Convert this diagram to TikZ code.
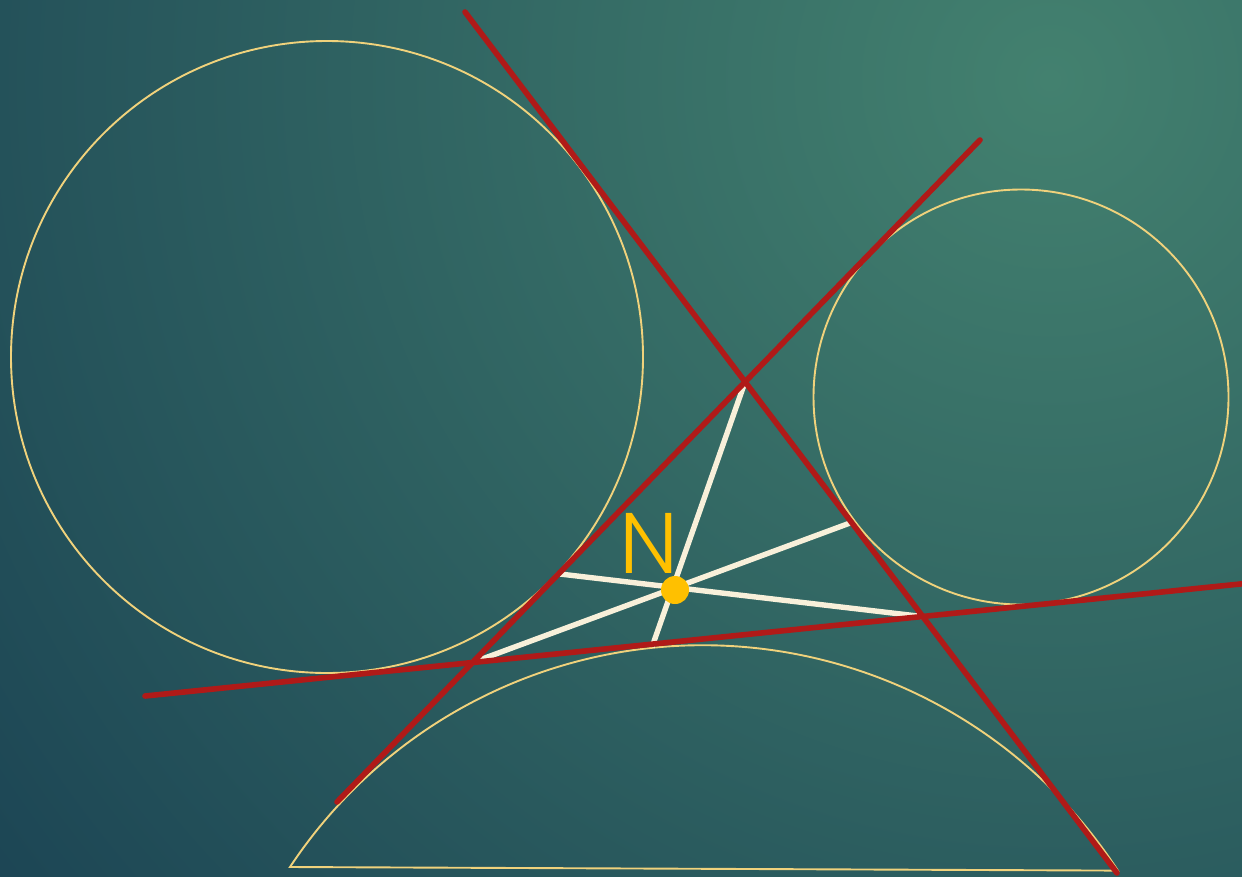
\documentclass[tikz,border=0pt]{standalone}
\usepackage{fontspec}
\newfontfamily\labelfont{Poppins}[UprightFont=* Light]
\definecolor{bgin}{HTML}{43816F}
\definecolor{bgout}{HTML}{1A4253}
\definecolor{redline}{HTML}{B01A18}
\definecolor{cevian}{HTML}{F8F0DA}
\definecolor{circ}{HTML}{F0D27C}
\definecolor{npt}{HTML}{FFC000}
\begin{document}
\begin{tikzpicture}[x=1pt,y=-1pt,
  excircle/.style={draw=circ, line width=1.9pt},
  sideline/.style={draw=redline, line width=5.6pt, line cap=round},
  cevianline/.style={draw=cevian, line width=5.4pt},
  npoint/.style={circle, fill=npt, minimum size=28pt, inner sep=0pt},
  nlabel/.style={text=npt, font=\labelfont\fontsize{86}{86}\selectfont, inner sep=0pt}
]
\useasboundingbox (0,0) rectangle (1242,876);
\begin{scope}
\clip (0,0) rectangle (1242,876);
\shade[inner color=bgin, outer color=bgout] (1050,80) circle (1400);
\end{scope}
% triangle vertices and tangent points
\coordinate (A) at (745,382);
\coordinate (B) at (472.4,662.6);
\coordinate (C) at (922.8,616.6);
\coordinate (Ta) at (652,647);
\coordinate (Tb) at (850,523);
\coordinate (Tc) at (560,574);
\coordinate (L1s) at (465,12);
\coordinate (L1e) at (1117,873);
\coordinate (L2s) at (337,802);
\coordinate (L2e) at (980,140);
\coordinate (L3s) at (145,696);
\coordinate (L3e) at (1250,583);
\coordinate (Oc) at (327,357);
\coordinate (Ob) at (1021,397);
\coordinate (Ol) at (290,867);
% excircles
\draw[excircle] (Oc) circle (316);
\draw[excircle] (Ob) circle (207.5);
\draw[excircle] (Ol) arc[start angle=-146.5, end angle=-33, radius=495] -- cycle;
% cevians
\draw[cevianline] (A) -- (Ta);
\draw[cevianline] (B) -- (Tb);
\draw[cevianline] (C) -- (Tc);
% side lines
\draw[sideline] (L1s) -- (L1e);
\draw[sideline] (L2s) -- (L2e);
\draw[sideline] (L3s) -- (L3e);
% Nagel point
\node[npoint] (N) at (675,590) {};
\node[nlabel] (Nlabel) at (648.5,543) {N};
\end{tikzpicture}
\end{document}
